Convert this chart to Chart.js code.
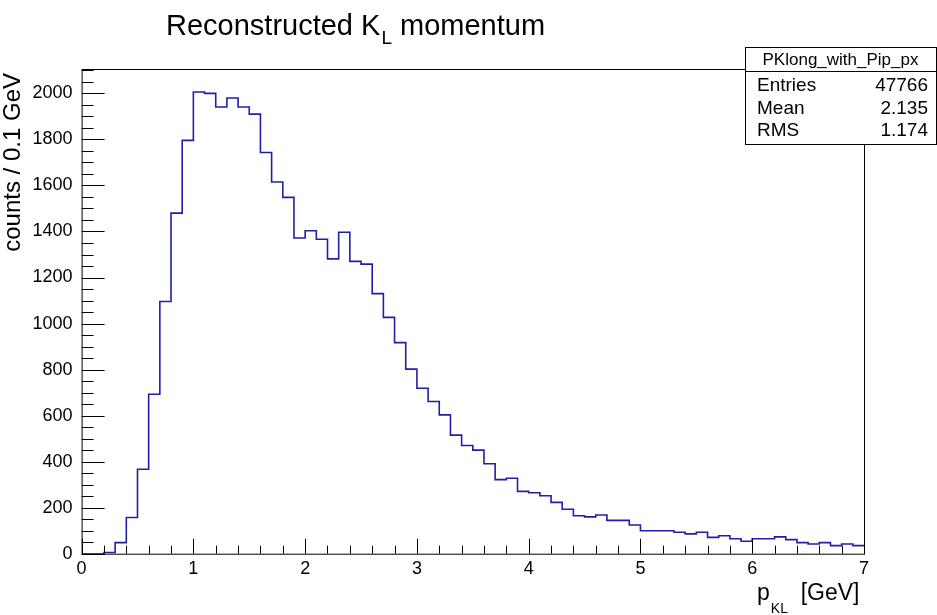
<!DOCTYPE html>
<html>
<head>
<meta charset="utf-8">
<title>Reconstructed KL momentum</title>
<script src="https://cdn.jsdelivr.net/npm/chart.js@4/dist/chart.umd.min.js"></script>
<style>
  html, body { margin: 0; padding: 0; background: #fff; }
  #histCanvas { display: block; }
</style>
</head>
<body>
<canvas id="histCanvas" width="937" height="615"></canvas>
<script>
// PKlong_with_Pip_px : 70 bins of 0.1 GeV from 0 to 7 GeV
const binWidth = 0.1;
const xRange = [0, 7];
const yRange = [0, 2106];
const counts = [
  0, 0, 5, 48, 157, 367, 693, 1096, 1480, 1796,
  2006, 2000, 1941, 1980, 1941, 1910, 1743, 1615, 1548, 1372,
  1403, 1366, 1281, 1397, 1270, 1258, 1130, 1027, 917, 802,
  719, 661, 603, 515, 470, 450, 391, 322, 328, 271,
  265, 252, 223, 193, 165, 160, 168, 145, 145, 125,
  100, 100, 100, 93, 86, 93, 71, 78, 65, 54,
  65, 65, 73, 61, 48, 42, 48, 35, 42, 35
];
const statsName = 'PKlong_with_Pip_px';
const statsLabels = ['Entries', 'Mean', 'RMS'];
const statsValues = ['47766', '2.135', '1.174'];

const FONT = '"Liberation Sans", Arial, Helvetica, sans-serif';

// one point per bin low edge, plus the closing edge
const histPoints = counts.map((c, i) => ({ x: xRange[0] + i * binWidth, y: c }));
histPoints.push({ x: xRange[1], y: counts[counts.length - 1] });

const drawText = (ctx, text, x, y, size, align) => {
  ctx.font = `${size}px ${FONT}`;
  ctx.textAlign = align || 'left';
  ctx.fillText(text, x, y);
  return ctx.measureText(text).width;
};

// ROOT style frame, inward ticks, titles and stats box
const rootDecorations = {
  id: 'rootDecorations',
  afterDraw(chart) {
    const { ctx, chartArea: area, scales } = chart;
    const xs = scales.x, ys = scales.y;
    ctx.save();
    ctx.strokeStyle = '#000';
    ctx.fillStyle = '#000';
    ctx.lineWidth = 1;

    ctx.strokeRect(area.left + 0.5, area.top + 0.5, area.right - area.left, area.bottom - area.top);

    ctx.beginPath();
    for (let v = 0; v <= 2100; v += 50) {
      const py = Math.round(ys.getPixelForValue(v)) + 0.5;
      const len = v % 200 === 0 ? 23 : 12;
      ctx.moveTo(area.left, py);
      ctx.lineTo(area.left + len, py);
    }
    for (let k = 0; k <= 35; k++) {
      const px = Math.round(xs.getPixelForValue(k * 0.2)) + 0.5;
      const len = k % 5 === 0 ? 15 : 8;
      ctx.moveTo(px, area.bottom);
      ctx.lineTo(px, area.bottom - len);
    }
    ctx.stroke();

    // title with K_L subscript
    ctx.textBaseline = 'alphabetic';
    let tx = 166;
    tx += drawText(ctx, 'Reconstructed K', tx, 35, 29);
    tx += drawText(ctx, 'L', tx + 1, 44, 19) + 1;
    drawText(ctx, ' momentum', tx, 35, 29);

    // x axis title
    let ax = 757;
    ax += drawText(ctx, 'p', ax, 600, 23);
    ax += drawText(ctx, 'KL', ax + 1, 613, 14) + 1;
    drawText(ctx, '  [GeV]', ax, 600, 23);

    // y axis title, end aligned with the top of the axis
    ctx.save();
    ctx.translate(20, 73);
    ctx.rotate(-Math.PI / 2);
    drawText(ctx, 'counts / 0.1 GeV', 0, 0, 24, 'right');
    ctx.restore();

    // stats box
    const bx = 745, by = 47, bw = 191, bh = 97;
    ctx.fillStyle = '#fff';
    ctx.fillRect(bx, by, bw, bh);
    ctx.strokeRect(bx + 0.5, by + 0.5, bw, bh);
    ctx.beginPath();
    ctx.moveTo(bx, 71.5);
    ctx.lineTo(bx + bw, 71.5);
    ctx.stroke();
    ctx.fillStyle = '#000';
    ctx.textBaseline = 'middle';
    drawText(ctx, statsName, bx + bw / 2, 60, 17, 'center');
    statsLabels.forEach((label, i) => {
      const ry = 86 + i * 22.6;
      drawText(ctx, label, 757, ry, 19, 'left');
      drawText(ctx, statsValues[i], 928, ry, 19, 'right');
    });
    ctx.restore();
  }
};

const getChartOptions = () => {
  return {
    responsive: false,
    animation: false,
    layout: { padding: { top: 69, right: 73, left: 0, bottom: 0 } },
    plugins: {
      legend: { display: false },
      tooltip: { enabled: false },
      title: { display: false }
    },
    scales: {
      x: {
        type: 'linear',
        min: xRange[0],
        max: xRange[1],
        grid: { display: false, drawTicks: false },
        border: { display: false },
        ticks: {
          stepSize: 1,
          autoSkip: false,
          maxRotation: 0,
          padding: 5,
          color: '#000',
          font: { family: FONT, size: 18 },
          callback: (v) => String(v)
        },
        afterFit: (scale) => { scale.height = 61.3; }
      },
      y: {
        type: 'linear',
        min: yRange[0],
        max: yRange[1],
        grid: { display: false, drawTicks: false },
        border: { display: false },
        ticks: {
          stepSize: 200,
          padding: 9,
          color: '#000',
          font: { family: FONT, size: 18 },
          callback: (v) => (v % 200 === 0 ? String(v) : '')
        },
        afterFit: (scale) => { scale.width = 81.6; }
      }
    }
  };
};

const histCanvas = document.getElementById('histCanvas');
new Chart(histCanvas, {
  type: 'line',
  data: {
    datasets: [{
      label: 'PKlong_with_Pip_px',
      data: histPoints,
      stepped: 'before',
      borderColor: '#1f1fa8',
      borderWidth: 1.6,
      pointRadius: 0,
      fill: false
    }]
  },
  options: getChartOptions(),
  plugins: [rootDecorations]
});
</script>
</body>
</html>
